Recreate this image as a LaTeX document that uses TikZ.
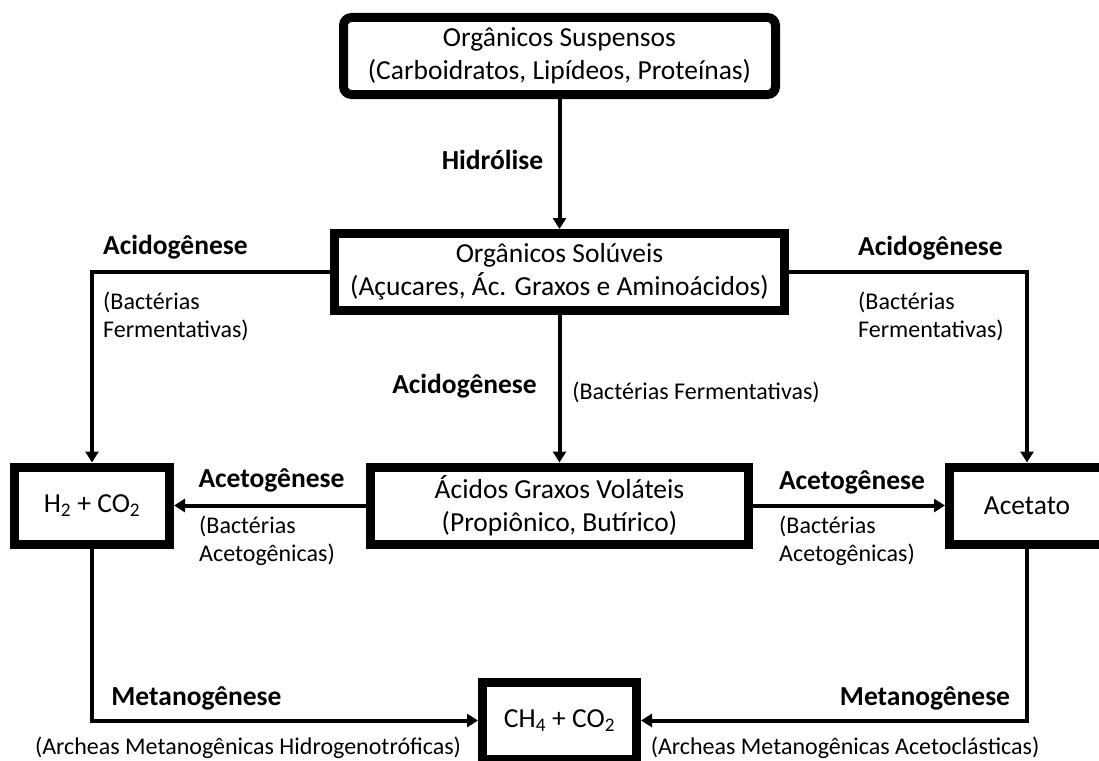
\documentclass[tikz,border=0pt]{standalone}
\usepackage{fontspec}
\setmainfont{Carlito}
\usetikzlibrary{arrows.meta}
\newcommand{\boxfont}{\fontsize{27.5}{33}\selectfont}
\newcommand{\labfont}{\fontsize{24}{28}\selectfont}
\newcommand{\blabfont}{\fontsize{27.5}{33}\selectfont\bfseries}
\begin{document}
\begin{tikzpicture}[x=1pt,y=-1pt,
  box/.style={draw, line width=9pt, minimum height=77pt, inner sep=0pt, align=center, font=\boxfont},
  conn/.style={line width=4pt, -{Triangle[length=11pt,width=13pt]}},
  lab/.style={inner sep=0pt, font=\labfont, align=left},
  blab/.style={inner sep=0pt, font=\blabfont}]
\useasboundingbox (0,0) rectangle (1099,760);
\clip (0,0) rectangle (1099,760);
\fill[white] (0,0) rectangle (1099,760);
% boxes
\node[box, rounded corners=8pt, minimum width=432pt] (sus) at (559.5,56) {Orgânicos Suspensos\\(Carboidratos, Lipídeos, Proteínas)};
\node[box, minimum width=450pt] (sol) at (559.5,272) {Orgânicos Solúveis\\(Açucares, Ác. Graxos e Aminoácidos)};
\node[box, minimum width=378pt] (acg) at (559.5,505.5) {Ácidos Graxos Voláteis\\(Propiônico, Butírico)};
\node[box, minimum width=155pt] (h2) at (92,505.5) {H\textsubscript{2} + CO\textsubscript{2}};
\node[box, minimum width=155pt] (ace) at (1027,505.5) {Acetato};
\node[box, minimum width=154pt] (ch4) at (559.5,720.5) {CH\textsubscript{4} + CO\textsubscript{2}};
% connectors
\draw[conn] (sus) -- (sol);
\draw[conn] (sol.west) -| (h2.north);
\draw[conn] (sol.east) -| (ace.north);
\draw[conn] (sol) -- (acg);
\draw[conn] (acg.west) -- (h2.east);
\draw[conn] (acg.east) -- (ace.west);
\draw[conn] (h2.south) |- (ch4.west);
\draw[conn] (ace.south) |- (ch4.east);
% labels
\node[blab] (lhid) at (492.5,160) {Hidrólise};
\node[blab, anchor=west] (lacl) at (103,247) {Acidogênese};
\node[lab, anchor=west] (lbfl) at (103,316) {(Bactérias\\Fermentativas)};
\node[blab, anchor=west] (lacr) at (858,248) {Acidogênese};
\node[lab, anchor=west] (lbfr) at (858,316) {(Bactérias\\Fermentativas)};
\node[blab] (lacm) at (464.5,386) {Acidogênese};
\node[lab] (lbfm) at (696,392) {(Bactérias Fermentativas)};
\node[blab] (latl) at (271.5,480) {Acetogênese};
\node[lab, anchor=west] (lbal) at (199,541) {(Bactérias\\Acetogênicas)};
\node[blab] (latr) at (852,482) {Acetogênese};
\node[lab, anchor=west] (lbar) at (779,541) {(Bactérias\\Acetogênicas)};
\node[blab] (lmel) at (196.5,698) {Metanogênese};
\node[lab] (larl) at (248,748) {(Archeas Metanogênicas Hidrogenotróficas)};
\node[blab] (lmer) at (925,698) {Metanogênese};
\node[lab] (larr) at (845,748) {(Archeas Metanogênicas Acetoclásticas)};
\end{tikzpicture}
\end{document}
